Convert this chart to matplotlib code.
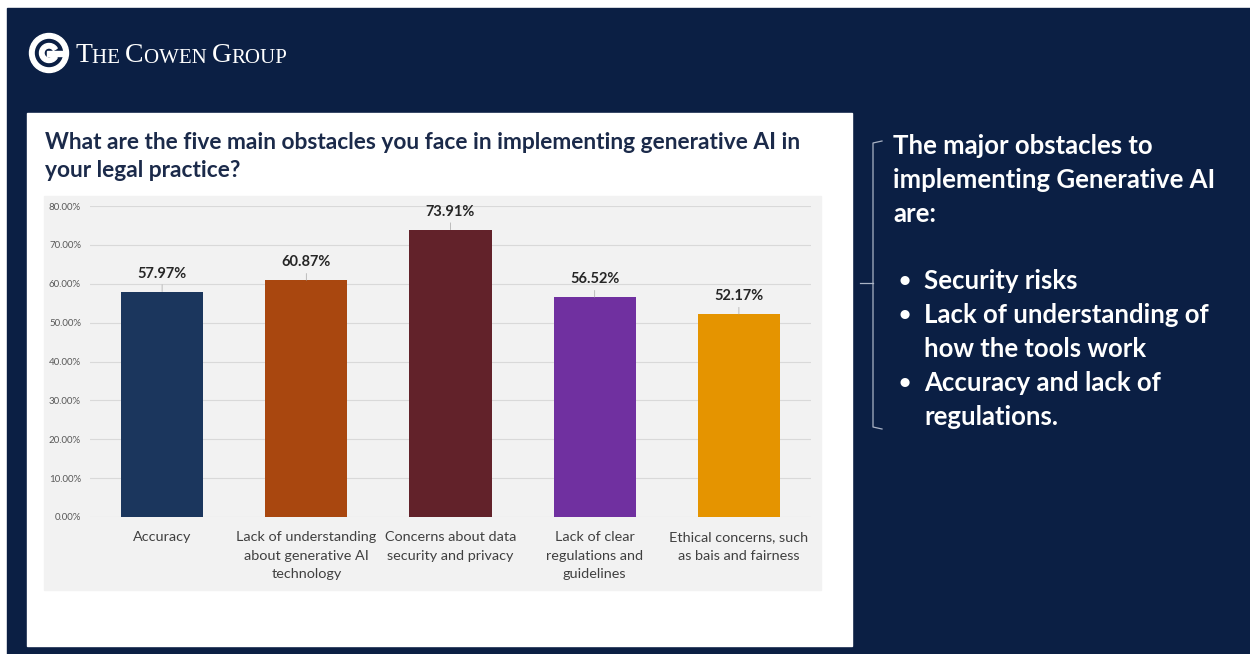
import matplotlib.pyplot as plt
from matplotlib.patches import Rectangle, Circle, Wedge
from matplotlib.lines import Line2D

plt.rcParams['font.family'] = ['Lato', 'DejaVu Sans']

categories = ['Accuracy',
              'Lack of understanding\nabout generative AI\ntechnology',
              'Concerns about data\nsecurity and privacy',
              'Lack of clear\nregulations and\nguidelines',
              'Ethical concerns, such\nas bais and fairness']
values = [57.97, 60.87, 73.91, 56.52, 52.17]
colors = ['#1b365d', '#a9470f', '#62222a', '#7030a0', '#e59400']
yticks = [0, 10, 20, 30, 40, 50, 60, 70, 80]

title = ('What are the five main obstacles you face in implementing generative AI in\n'
         'your legal practice?')
side_head = ['The major obstacles to', 'implementing Generative AI', 'are:']
side_bullets = [['Security risks'],
                ['Lack of understanding of', 'how the tools work'],
                ['Accuracy and lack of', 'regulations.']]

W, H = 1250, 654
NAVY = '#0b1f44'
fig = plt.figure(figsize=(W / 100, H / 100), dpi=100)

# background layer in pixel coordinates
bg = fig.add_axes([0, 0, 1, 1])
bg.set_xlim(0, W)
bg.set_ylim(H, 0)
bg.axis('off')
bg.add_patch(Rectangle((0, 0), W, H, color='white'))
bg.add_patch(Rectangle((7, 8), W - 7, H - 8, color=NAVY))
bg.add_patch(Rectangle((27, 113), 825, 533, color='white'))
bg.add_patch(Rectangle((44, 196), 777, 394, color='#f2f2f2'))

# logo
bg.add_patch(Circle((49, 53), 19.5, color='white'))
bg.add_patch(Circle((49, 53), 13.5, color=NAVY))
bg.add_patch(Wedge((49, 53), 9.5, 30, 330, width=4.5, color='white'))
bg.add_patch(Rectangle((47, 50.5), 18, 5, color='white'))
t = bg.text(75, 62, 'T', color='white', fontsize=20, family='Liberation Serif', va='baseline')
for piece, size in [('HE ', 15), ('C', 20), ('OWEN ', 15), ('G', 20), ('ROUP', 15)]:
    t = bg.annotate(piece, xy=(1, 0), xycoords=t, color='white', fontsize=size,
                    family='Liberation Serif', va='bottom', ha='left')

# title
bg.text(45, 132, title, color='#1b2a4a', fontsize=16.4, fontweight='bold',
        va='top', ha='left', linespacing=1.42)

# side text
y = 146
for line in side_head:
    bg.text(893, y, line, color='white', fontsize=18.5, fontweight='bold', va='center')
    y += 34
y += 33
for item in side_bullets:
    bg.text(899, y, '\u2022', color='white', fontsize=15, fontweight='bold', va='center')
    for line in item:
        bg.text(924, y, line, color='white', fontsize=18.5, fontweight='bold', va='center')
        y += 34

# bracket
bc = '#aab3c5'
bg.add_line(Line2D([882, 873, 873, 882], [141, 143, 427, 429], color=bc, lw=0.9))
bg.add_line(Line2D([860, 873], [283, 283], color=bc, lw=0.9))

# chart
ax = fig.add_axes([90 / W, (H - 517) / H, 721 / W, 311 / H])
ax.set_facecolor('none')
x = range(len(values))
bars = ax.bar(x, values, width=0.57, color=colors, zorder=3)
ax.set_xlim(-0.5, len(values) - 0.5)
ax.set_ylim(0, 80)
ax.set_yticks(yticks)
ax.set_yticklabels(['%.2f%%' % v for v in yticks])
ax.yaxis.grid(True, color='#d9d9d9', lw=0.8, zorder=0)
ax.set_xticks(list(x))
ax.set_xticklabels(categories, fontsize=10.4, color='#404040', linespacing=1.68)
ax.tick_params(axis='y', labelsize=7, labelcolor='#595959', length=0, pad=6.5)
ax.tick_params(axis='x', length=0, pad=10)
for s in ax.spines.values():
    s.set_visible(False)

for i, v in enumerate(values):
    ax.annotate('%.2f%%' % v, xy=(i, v), xytext=(0, 13), textcoords='offset points',
                ha='center', va='center', fontsize=10.5, fontweight='bold', color='#262626',
                arrowprops=dict(arrowstyle='-', color='#a6a6a6', lw=0.5, shrinkA=1, shrinkB=0))

fig.savefig('out.png', dpi=100)
